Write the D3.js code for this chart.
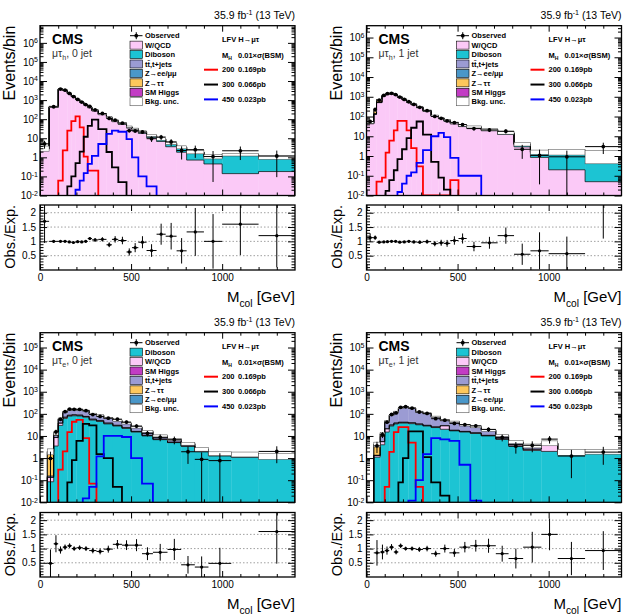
<!DOCTYPE html>
<html>
<head>
<meta charset="utf-8">
<script src="https://cdn.jsdelivr.net/npm/d3@7"></script>
<style>
  body { margin: 0; background: #fff; }
  svg { display: block; }
</style>
</head>
<body>
<svg id="chart" width="627" height="616"></svg>
<script>
// ---- mu tau_h, 0 jet ----
const mt0Edges = [0,50,100,125,150,172,195,218,240,262,285,320,365,395,430,475,505,540,585,640,690,750,805,900,1000,1200,1400];
const mt0WQCD = [2.7,428,3650,3190,2220,1540,1060,768,554,399,272,172,114,74,52.6,34,26,18,10.8,6.8,3.6,1.85,0.72,0.45,0.14,0.18];
const mt0Diboson = [0.05,3,20,18,14,11,9,8,7,6,6,5.5,5,4.5,4,3.5,3,2.6,2.2,1.8,1.4,1.2,0.9,0.5,1.1,0.7];
const mt0TTbar = [0.05,5,45,40,30,22,15,12,10,8,6,4.5,3.5,2.6,2,1.5,1.2,0.9,0.6,0.45,0.35,0.25,0.2,0.1,0.1,0.05];
const mt0Zll = [0.1,5,45,32,22,15,10,8,6,5,4,3,2,1.5,1.1,0.8,0.6,0.45,0.3,0.2,0.12,0.1,0.08,0.05,0.04,0.05];
const mt0Ztt = [0.1,8,40,20,10,7,5,3.5,2.5,1.8,1.2,0.8,0.5,0.3,0.2,0.1,0.1,0.05,0.05,0,0,0,0,0,0,0];
const mt0SMH = [0,0.5,3,3,2.5,2,1.5,1,0.8,0.6,0.4,0.3,0.2,0.1,0.08,0.05,0.03,0.02,0.01,0,0,0,0,0,0,0];
const mt0Unc = [0.3,0.08,0.05,0.05,0.05,0.05,0.05,0.05,0.05,0.06,0.06,0.07,0.08,0.08,0.09,0.1,0.1,0.12,0.12,0.15,0.15,0.18,0.2,0.25,0.15,0.2];
const mt0Ratio = [1.7,1.0,1.0,1.0,0.98,0.96,0.99,0.98,1.0,1.1,1.05,1.07,0.88,1.07,1.03,0.63,0.78,0.97,0.68,1.25,1.18,0.67,1.33,1.0,1.6,1.2];
const mt0Sig200 = [0,0,0.06,2.3,25,80,140,37,1.1,0.2,0.2,0,0,0,0,0,0,0,0,0,0,0,0,0,0,0];
const mt0Sig300 = [0,0,0,0,0.03,0.1,0.5,2,12,45,95,30,1.9,0.3,0.05,0,0,0,0,0,0,0,0,0,0,0];
const mt0Sig450 = [0,0,0,0,0,0,0.02,0.06,0.15,0.45,1.2,5,17,25,22,9,1.0,0.1,0.03,0,0,0,0,0,0,0];

// ---- mu tau_h, 1 jet ----
const mt1Edges = [0,40,55,85,105,125,150,170,195,220,245,275,310,355,395,425,460,505,550,630,720,810,900,1000,1200,1400];
const mt1WQCD = [43,129,504,1083,1328,1391,1208,929,694,519,389,278,184,100,77,58,42,31,26,19,12.4,2.9,0.85,0.2,0.05];
const mt1Diboson = [1,3,10,15,20,22,20,17,14,11,9,7,5.5,4,3.3,2.8,2.4,2.0,1.7,1.5,1.3,0.8,0.5,1.0,1.1];
const mt1TTbar = [0.5,3,15,30,40,40,35,30,22,16,12,9,6,3.5,2.8,2.2,1.8,1.5,1.2,0.9,0.7,0.2,0.15,0.25,0];
const mt1Zll = [2,5,20,30,35,30,25,18,15,10,7,5,4,2,1.5,1.4,1.2,1,0.8,0.6,0.5,0.1,0.1,0.15,0];
const mt1Ztt = [3,60,150,40,25,15,10,5,4,3,2,1,0.5,0.4,0.3,0.2,0.1,0.1,0.1,0.05,0.05,0,0,0,0];
const mt1SMH = [0.1,0.3,1,1.5,2,2,1.5,1.2,1,0.8,0.6,0.4,0.3,0.2,0.1,0.1,0.1,0.05,0.05,0.02,0.02,0,0,0,0];
const mt1Unc = [0.1,0.08,0.06,0.05,0.05,0.05,0.05,0.05,0.05,0.05,0.06,0.06,0.07,0.08,0.08,0.09,0.1,0.1,0.12,0.14,0.15,0.2,0.25,0.3,0.65];
const mt1Ratio = [1.13,1.13,0.97,0.98,0.99,1.0,1.0,0.97,0.98,1.0,0.98,0.97,0.99,0.92,0.95,0.93,1.03,1.1,0.82,0.95,1.2,0.55,0.67,0.57,2.6];
const mt1Sig200 = [0,0,0.05,0.08,1.5,6,20,60,60,20,2.5,0.3,0,0,0,0,0.06,0,0,0,0,0,0,0,0];
const mt1Sig300 = [0,0,0,0,0.017,0.06,0.19,0.7,2.2,8,27,56,12,0.5,0.08,0.02,0,0,0,0,0,0,0,0,0];
const mt1Sig450 = [0,0,0,0,0,0,0,0.015,0.04,0.1,0.15,0.45,2,10,15,9,0.8,0.1,0.1,0,0,0,0,0,0];

// ---- mu tau_e, 0 jet ----
const me0Edges = [40,75,100,125,150,175,200,235,270,310,350,400,450,500,560,620,700,775,850,925,1050,1200,1400];
const me0Diboson = [0.085,3.5,30,62,78,82,80,70,52,45,35,28,22,15,10,6.8,5,3.4,1.9,1.25,1.1,1.0];
const me0WQCD = [0.05,5,8,8,8,8,7,6,5,4,3,2.2,1.5,1,0.6,0.4,0.2,0.15,0.1,0.05,0.05,0.02];
const me0SMH = [0,0.1,0.3,0.5,0.6,0.6,0.5,0.4,0.3,0.2,0.15,0.1,0.05,0.03,0.02,0.01,0,0,0,0,0,0];
const me0TTbar = [0.02,2,17.7,45,59,65,64,61,41,34.5,26,19,14,8.8,5.3,2.7,1.8,0.95,0.5,0.3,0.35,0.23];
const me0Ztt = [1.8,2,3,3,3,3,2,1.5,1,0.7,0.5,0.3,0.2,0.1,0.05,0.05,0,0,0,0,0,0];
const me0Zll = [0.05,0.4,1,1.5,1.5,1.5,1.5,1,0.8,0.6,0.4,0.3,0.2,0.1,0.05,0.05,0,0,0,0,0,0];
const me0Unc = [0.3,0.15,0.08,0.06,0.06,0.06,0.06,0.06,0.07,0.07,0.08,0.08,0.09,0.1,0.1,0.12,0.12,0.15,0.18,0.2,0.25,0.3];
const me0Ratio = [0.48,1.17,0.95,1.05,1.1,1.0,1.03,1.0,0.93,0.9,0.98,1.15,1.12,1.12,0.82,0.87,0.97,0.43,0.35,0.48,null,1.6];
const me0Sig200 = [0,0,0.3,2,15,44,53,8,0.07,0,0,0,0,0,0,0,0,0,0,0,0,0];
const me0Sig300 = [0,0,0,0,0.08,0.8,6,35,30,1.5,1.0,0.05,0,0,0,0,0,0,0,0,0,0];
const me0Sig450 = [0,0,0,0,0,0,0,0.015,0.05,1.2,10,10,9,1.0,0.07,0,0,0,0,0,0,0];

// ---- mu tau_e, 1 jet ----
const me1Edges = [40,75,100,125,150,175,200,230,270,310,355,405,455,510,570,630,710,780,860,960,1050,1200,1400];
const me1Diboson = [1.1,4,15,28,35,38,38,36,32,28,24,20,17,15,13,10,7,3.5,2.2,2.0,1.4,1.6];
const me1WQCD = [0.2,1.5,6,3,3,3,3,3,2.5,2,1.5,9,1,1,0.8,0.6,0.4,0.6,0.3,2.4,0.1,0.05];
const me1SMH = [0,0.1,0.3,0.5,0.8,1,1,0.8,0.5,0.3,0.2,0.15,0.1,0.05,0.05,0,0,0,0,0,0,0];
const me1TTbar = [0.05,3.9,20,53,81,133,164,137,88,73,47,22,25,14.6,11.9,7.25,3.05,1.2,1.1,0.4,0.4,0.35];
const me1Ztt = [2.8,3,3,3,3,2.5,2,1.5,1,0.8,0.5,0.3,0.2,0.1,0.1,0.05,0,0,0,0,0,0];
const me1Zll = [0.05,0.5,1,1.5,2,2,2,1.5,1,0.8,0.6,0.4,0.3,0.2,0.15,0.1,0.05,0,0,0,0,0];
const me1Unc = [0.25,0.12,0.07,0.06,0.06,0.05,0.05,0.05,0.06,0.06,0.07,0.08,0.08,0.09,0.1,0.1,0.12,0.15,0.2,0.25,0.3,0.25];
const me1Ratio = [0.85,0.88,0.93,1.05,0.88,1.1,1.0,1.0,0.97,1.0,0.82,1.0,0.85,1.05,1.1,1.1,0.82,0.65,1.05,1.5,0.65,0.93];
const me1Sig200 = [0,0,0.05,1.9,15,25,25,5,0.05,0,0,0,0,0,0,0,0,0,0,0,0,0];
const me1Sig300 = [0,0,0,0,0,0.08,1.0,16,16,1.1,0.08,0.02,0,0,0,0,0,0,0,0,0,0];
const me1Sig450 = [0,0,0,0,0,0,0,0.012,0.1,1.5,8,7,6,0.5,0.012,0,0,0,0,0,0,0];

// legend / styling
const signalMass = ["200", "300", "450"];
const signalXsec = ["0.169pb", "0.066pb", "0.023pb"];
const signalColor = ["#ff0000", "#000000", "#0000ff"];
const bkgColor = {wqcd: "#fbc9f7", diboson: "#1cc4d3", ttbar: "#9b9bd3", zll: "#4a97c9", ztt: "#fdc75c", smh: "#c23cc4"};
const bkgName = {wqcd: "W/QCD", diboson: "Diboson", ttbar: "tt\u0304,t+jets", zll: "Z\u2192ee/\u03bc\u03bc", ztt: "Z\u2192\u03c4\u03c4", smh: "SM Higgs"};
const orderTauH = ["wqcd", "diboson", "ttbar", "zll", "ztt", "smh"];
const orderTauE = ["diboson", "wqcd", "smh", "ttbar", "ztt", "zll"];

const FONT = "'Liberation Sans', Arial, Helvetica, sans-serif";
const colLeft = [40, 366.5];
const plotW = 255;
const rowGeo = [
  {top: 25.7, bot: 195.5, rTop: 205, rBot: 270},
  {top: 332.7, bot: 502.3, rTop: 512.5, rBot: 577}
];

const panels = [
  {col: 0, row: 0, yTopExp: 6.9, lep: "h", jets: ", 0 jet", order: orderTauH, edges: mt0Edges,
   stack: {wqcd: mt0WQCD, diboson: mt0Diboson, ttbar: mt0TTbar, zll: mt0Zll, ztt: mt0Ztt, smh: mt0SMH},
   unc: mt0Unc, ratio: mt0Ratio, signals: [mt0Sig200, mt0Sig300, mt0Sig450]},
  {col: 1, row: 0, yTopExp: 6.6, lep: "h", jets: ", 1 jet", order: orderTauH, edges: mt1Edges,
   stack: {wqcd: mt1WQCD, diboson: mt1Diboson, ttbar: mt1TTbar, zll: mt1Zll, ztt: mt1Ztt, smh: mt1SMH},
   unc: mt1Unc, ratio: mt1Ratio, signals: [mt1Sig200, mt1Sig300, mt1Sig450]},
  {col: 0, row: 1, yTopExp: 5.67, lep: "e", jets: ", 0 jet", order: orderTauE, edges: me0Edges,
   stack: {wqcd: me0WQCD, diboson: me0Diboson, ttbar: me0TTbar, zll: me0Zll, ztt: me0Ztt, smh: me0SMH},
   unc: me0Unc, ratio: me0Ratio, signals: [me0Sig200, me0Sig300, me0Sig450]},
  {col: 1, row: 1, yTopExp: 5.67, lep: "e", jets: ", 1 jet", order: orderTauE, edges: me1Edges,
   stack: {wqcd: me1WQCD, diboson: me1Diboson, ttbar: me1TTbar, zll: me1Zll, ztt: me1Ztt, smh: me1SMH},
   unc: me1Unc, ratio: me1Ratio, signals: [me1Sig200, me1Sig300, me1Sig450]}
];

const svg = d3.select("#chart").attr("font-family", FONT);

// text with sub/superscript parts
function addText(parent, x, y, parts, opts) {
  const t = parent.append("text").attr("x", x).attr("y", y)
    .attr("font-size", opts.size)
    .attr("font-weight", opts.bold ? "bold" : null)
    .attr("text-anchor", opts.anchor || "start")
    .attr("fill", opts.fill || "#000");
  if (opts.transform) t.attr("transform", opts.transform);
  let shift = 0;
  parts.forEach(pt => {
    const s = typeof pt === "string" ? {t: pt} : pt;
    const target = s.sup ? -opts.size * 0.42 : s.sub ? opts.size * 0.3 : 0;
    const ts = t.append("tspan").attr("dy", target - shift).text(s.t);
    if (s.sup || s.sub) ts.attr("font-size", opts.size * 0.68);
    shift = target;
  });
  return t;
}

function tickGroup(tr, gen) {
  return svg.append("g").attr("transform", tr)
    .attr("font-family", FONT).attr("font-size", 10)
    .call(gen)
    .call(s => s.select(".domain").remove());
}

function drawPanel(p, idx) {
  const L = colLeft[p.col], R = L + plotW, g = rowGeo[p.row];
  const nb = p.edges.length - 1;
  const bins = d3.range(nb);
  const yMin = 0.01, yMax = Math.pow(10, p.yTopExp);

  const x = d3.scaleLinear().domain([0, 1400]).range([L, R]);
  const y = d3.scaleLog().domain([yMin, yMax]).range([g.bot, g.top]).clamp(true);
  const yr = d3.scaleLinear().domain([0, 2.27]).range([g.rBot, g.rTop]);
  const Y = v => y(Math.max(v, yMin));
  const x0 = i => x(p.edges[i]), x1 = i => x(p.edges[i + 1]);

  const defs = svg.append("defs");
  defs.append("clipPath").attr("id", "cm" + idx).append("rect")
    .attr("x", L).attr("y", g.top).attr("width", plotW).attr("height", g.bot - g.top);
  defs.append("clipPath").attr("id", "cr" + idx).append("rect")
    .attr("x", L).attr("y", g.rTop).attr("width", plotW).attr("height", g.rBot - g.rTop);

  const main = svg.append("g").attr("clip-path", `url(#cm${idx})`);

  // stacked backgrounds
  let cum = bins.map(() => 0);
  const layers = p.order.map(key => {
    const lo = cum;
    const hi = cum.map((c, i) => c + p.stack[key][i]);
    cum = hi;
    return {key, lo, hi};
  });
  const total = cum;

  layers.forEach(l => {
    main.append("g").selectAll("rect")
      .data(bins.filter(i => l.hi[i] > l.lo[i] && l.hi[i] > yMin))
      .join("rect")
      .attr("x", x0)
      .attr("width", i => x1(i) - x0(i) + 0.3)
      .attr("y", i => Y(l.hi[i]))
      .attr("height", i => Y(l.lo[i]) - Y(l.hi[i]))
      .attr("fill", bkgColor[l.key]);
  });

  function stepPath(vals, first, last) {
    let d = `M${x0(first)},${g.bot}`;
    for (let i = first; i <= last; i++) d += `V${Y(vals[i])}H${x1(i)}`;
    return d + `V${g.bot}`;
  }

  layers.forEach(l => {
    main.append("path").attr("d", stepPath(l.hi, 0, nb - 1))
      .attr("fill", "none").attr("stroke", "#000").attr("stroke-width", 0.7);
  });

  // background uncertainty boxes
  main.append("g").selectAll("rect")
    .data(bins)
    .join("rect")
    .attr("x", x0)
    .attr("width", i => x1(i) - x0(i))
    .attr("y", i => Y(total[i] * (1 + p.unc[i])))
    .attr("height", i => Y(total[i] * (1 - p.unc[i])) - Y(total[i] * (1 + p.unc[i])))
    .attr("fill", "#fff").attr("stroke", "#444").attr("stroke-width", 0.5);

  // signal histograms
  p.signals.forEach((s, k) => {
    const nz = bins.filter(i => s[i] > 0);
    main.append("path").attr("d", stepPath(s, nz[0], nz[nz.length - 1]))
      .attr("fill", "none").attr("stroke", signalColor[k]).attr("stroke-width", 1.8);
  });

  // observed
  const obsBins = bins.filter(i => p.ratio[i] != null);
  const obs = i => p.ratio[i] * total[i];
  const og = main.append("g").attr("stroke", "#000").attr("stroke-width", 1);
  og.selectAll(".eh").data(obsBins).join("line")
    .attr("x1", x0).attr("x2", x1).attr("y1", i => Y(obs(i))).attr("y2", i => Y(obs(i)));
  og.selectAll(".ev").data(obsBins).join("line")
    .attr("x1", i => (x0(i) + x1(i)) / 2).attr("x2", i => (x0(i) + x1(i)) / 2)
    .attr("y1", i => Y(obs(i) + Math.sqrt(obs(i))))
    .attr("y2", i => Y(obs(i) - Math.sqrt(obs(i))));
  og.selectAll("circle").data(obsBins).join("circle")
    .attr("cx", i => (x0(i) + x1(i)) / 2).attr("cy", i => Y(obs(i))).attr("r", 1.9)
    .attr("fill", "#000").attr("stroke", "none");

  // ratio panel
  const rg = svg.append("g").attr("clip-path", `url(#cr${idx})`);
  rg.selectAll(".grid").data([0.5, 1, 1.5, 2]).join("line")
    .attr("x1", L).attr("x2", R).attr("y1", d => yr(d)).attr("y2", d => yr(d))
    .attr("stroke", "#888").attr("stroke-width", 0.8).attr("stroke-dasharray", "1.5,2");
  const rerr = i => Math.sqrt(obs(i)) / total[i];
  const rp = rg.append("g").attr("stroke", "#000").attr("stroke-width", 1);
  rp.selectAll(".eh").data(obsBins).join("line")
    .attr("x1", x0).attr("x2", x1).attr("y1", i => yr(p.ratio[i])).attr("y2", i => yr(p.ratio[i]));
  rp.selectAll(".ev").data(obsBins).join("line")
    .attr("x1", i => (x0(i) + x1(i)) / 2).attr("x2", i => (x0(i) + x1(i)) / 2)
    .attr("y1", i => yr(p.ratio[i] + rerr(i)))
    .attr("y2", i => yr(Math.max(p.ratio[i] - rerr(i), 0)));
  rp.selectAll("circle").data(obsBins).join("circle")
    .attr("cx", i => (x0(i) + x1(i)) / 2).attr("cy", i => yr(p.ratio[i])).attr("r", 1.6)
    .attr("fill", "#000").attr("stroke", "none");

  // axes ticks
  const yMajor = d3.range(-2, Math.floor(p.yTopExp) + 1).map(e => Math.pow(10, e));
  const yMinor = [];
  d3.range(-2, Math.ceil(p.yTopExp)).forEach(e => d3.range(2, 10).forEach(k => {
    const v = k * Math.pow(10, e);
    if (v < yMax) yMinor.push(v);
  }));
  const xMajor = [0, 500, 1000];
  const xMinor = d3.range(100, 1400, 100).filter(v => v % 500);

  tickGroup(`translate(${L},0)`, d3.axisLeft(y).tickValues(yMajor).tickSize(-7).tickPadding(2).tickFormat(""))
    .selectAll(".tick text").each(function(d) {
      const e = Math.round(Math.log10(d));
      const t = d3.select(this).text(e === 0 ? "1" : "10");
      if (e !== 0 && e !== 1) t.append("tspan").attr("dy", "-0.5em").attr("font-size", 7).text(e);
    });
  tickGroup(`translate(${L},0)`, d3.axisLeft(y).tickValues(yMinor).tickSize(-3.5).tickFormat(""));
  tickGroup(`translate(${R},0)`, d3.axisRight(y).tickValues(yMajor).tickSize(-7).tickFormat(""));
  tickGroup(`translate(${R},0)`, d3.axisRight(y).tickValues(yMinor).tickSize(-3.5).tickFormat(""));
  [[g.bot, d3.axisBottom], [g.top, d3.axisTop], [g.rBot, d3.axisBottom], [g.rTop, d3.axisTop]].forEach(([yy, ax], k) => {
    const gen = ax(x).tickValues(xMajor).tickSize(-6);
    if (k === 2) gen.tickPadding(4).tickFormat(d3.format("d")); else gen.tickFormat("");
    tickGroup(`translate(0,${yy})`, gen);
    tickGroup(`translate(0,${yy})`, ax(x).tickValues(xMinor).tickSize(-3).tickFormat(""));
  });
  const rMajor = [0.5, 1, 1.5, 2];
  const rMinor = d3.range(1, 23).map(k => k / 10).filter(v => Math.abs(v * 2 - Math.round(v * 2)) > 1e-6);
  tickGroup(`translate(${L},0)`, d3.axisLeft(yr).tickValues(rMajor).tickSize(-7).tickPadding(4).tickFormat(d3.format("")));
  tickGroup(`translate(${L},0)`, d3.axisLeft(yr).tickValues(rMinor).tickSize(-3.5).tickFormat(""));
  tickGroup(`translate(${R},0)`, d3.axisRight(yr).tickValues(rMajor).tickSize(-7).tickFormat(""));
  tickGroup(`translate(${R},0)`, d3.axisRight(yr).tickValues(rMinor).tickSize(-3.5).tickFormat(""));

  // frames
  [[g.top, g.bot], [g.rTop, g.rBot]].forEach(([t, b]) => {
    svg.append("rect").attr("x", L).attr("y", t).attr("width", plotW).attr("height", b - t)
      .attr("fill", "none").attr("stroke", "#000").attr("stroke-width", 1.3);
  });

  // titles
  addText(svg, 0, 0, ["Events/bin"], {size: 16, anchor: "end", transform: `translate(${L - 25},${g.top}) rotate(-90)`});
  addText(svg, 0, 0, ["Obs./Exp."], {size: 14.5, anchor: "end", transform: `translate(${L - 25},${g.rTop}) rotate(-90)`});
  addText(svg, R, g.rBot + 32, ["M", {t: "col", sub: true}, " [GeV]"], {size: 15, anchor: "end"});
  addText(svg, R, g.top - 6.5, ["35.9 fb", {t: "-1", sup: true}, " (13 TeV)"], {size: 10.5, anchor: "end"});
  addText(svg, L + 12, g.top + 18.5, ["CMS"], {size: 14, bold: true});
  addText(svg, L + 12, g.top + 31.5, ["\u03bc\u03c4", {t: p.lep, sub: true}, p.jets], {size: 10.5, fill: "#333"});

  // background legend
  const legX = L + 90, legTX = L + 105, step = 9.43;
  const lg = svg.append("g");
  const entries = ["obs"].concat(p.order, ["unc"]);
  entries.forEach((key, k) => {
    const ry = g.top + 10 + k * step;
    if (key === "obs") {
      lg.append("line").attr("x1", legX).attr("x2", legX + 12.5).attr("y1", ry).attr("y2", ry).attr("stroke", "#000");
      lg.append("line").attr("x1", legX + 6.25).attr("x2", legX + 6.25).attr("y1", ry - 3.5).attr("y2", ry + 3.5).attr("stroke", "#000");
      lg.append("circle").attr("cx", legX + 6.25).attr("cy", ry).attr("r", 1.9);
      addText(lg, legTX, ry + 2.7, ["Observed"], {size: 7.5, bold: true});
    } else {
      lg.append("rect").attr("x", legX).attr("y", ry - 4).attr("width", 12.5).attr("height", 8)
        .attr("fill", key === "unc" ? "#fff" : bkgColor[key])
        .attr("stroke", key === "unc" ? "#555" : "#000").attr("stroke-width", 0.6);
      addText(lg, legTX, ry + 2.7, [key === "unc" ? "Bkg. unc." : bkgName[key]], {size: 7.5, bold: true});
    }
  });

  // signal legend
  addText(lg, L + 182, g.top + 16, ["LFV H\u2192\u03bc\u03c4"], {size: 7.5, bold: true});
  addText(lg, L + 182, g.top + 32.5, ["M", {t: "H", sub: true}], {size: 7.5, bold: true});
  addText(lg, L + 198, g.top + 32.5, ["0.01\u00d7\u03c3(BSM)"], {size: 7.5, bold: true});
  signalMass.forEach((m, k) => {
    const ry = g.top + 44 + k * 14.85;
    lg.append("line").attr("x1", L + 164).attr("x2", L + 178).attr("y1", ry).attr("y2", ry)
      .attr("stroke", signalColor[k]).attr("stroke-width", 2);
    addText(lg, L + 182, ry + 2.7, [m], {size: 7.5, bold: true});
    addText(lg, L + 198, ry + 2.7, [signalXsec[k]], {size: 7.5, bold: true});
  });
}

panels.forEach(drawPanel);
</script>
</body>
</html>
